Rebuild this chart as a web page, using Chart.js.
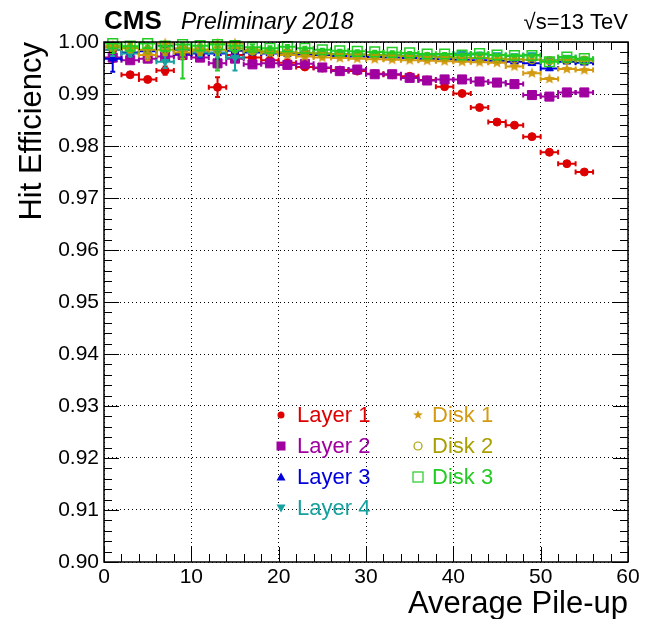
<!DOCTYPE html>
<html>
<head>
<meta charset="utf-8">
<script src="https://cdn.jsdelivr.net/npm/chart.js@4.4.1/dist/chart.umd.min.js"></script>
<style>
html, body { margin: 0; padding: 0; background: #fff; }
</style>
</head>
<body>
<canvas id="hiteff" width="651" height="619"></canvas>
<script>
// average pile-up bin centres (bins 2 wide)
var pileup = [1, 3, 5, 7, 9, 11, 13, 15, 17, 19, 21, 23, 25, 27, 29, 31, 33, 35, 37, 39, 41, 43, 45, 47, 49, 51, 53, 55];

var layer1 = [0.9985, 0.9937, 0.9928, 0.9945, 0.9985, 0.9980, 0.9913, 0.9975, 0.9970, 0.9965, 0.9960, 0.9952, 0.9950, 0.9946, 0.9944, 0.9939, 0.9937, 0.9934, 0.9927, 0.9914, 0.9901, 0.9874, 0.9846, 0.9840, 0.9818, 0.9788, 0.9766, 0.9750];
var layer2 = [0.9970, 0.9965, 0.9968, 0.9972, 0.9975, 0.9970, 0.9959, 0.9968, 0.9957, 0.9959, 0.9956, 0.9958, 0.9951, 0.9944, 0.9947, 0.9938, 0.9938, 0.9931, 0.9926, 0.9928, 0.9928, 0.9924, 0.9922, 0.9919, 0.9898, 0.9895, 0.9903, 0.9903];
var layer3 = [0.9968, 0.9980, 0.9982, 0.9993, 0.9978, 0.9978, 0.9978, 0.9983, 0.9980, 0.9978, 0.9977, 0.9976, 0.9975, 0.9973, 0.9972, 0.9971, 0.9970, 0.9969, 0.9968, 0.9967, 0.9966, 0.9965, 0.9964, 0.9962, 0.9959, 0.9949, 0.9962, 0.9960];
var layer4 = [0.9985, 0.9978, 0.9975, 0.9962, 0.9985, 0.9980, 0.9980, 0.9970, 0.9982, 0.9980, 0.9980, 0.9979, 0.9978, 0.9977, 0.9976, 0.9975, 0.9975, 0.9974, 0.9973, 0.9972, 0.9978, 0.9976, 0.9975, 0.9973, 0.9975, 0.9965, 0.9970, 0.9967];
var disk1 = [0.9993, 0.9990, 0.9975, 0.9997, 0.9980, 0.9985, 0.9997, 0.9997, 0.9985, 0.9980, 0.9975, 0.9972, 0.9970, 0.9969, 0.9968, 0.9967, 0.9966, 0.9965, 0.9964, 0.9963, 0.9962, 0.9961, 0.9960, 0.9953, 0.9940, 0.9929, 0.9948, 0.9946];
var disk2 = [0.9990, 0.9988, 0.9985, 0.9985, 0.9988, 0.9985, 0.9985, 0.9988, 0.9983, 0.9982, 0.9980, 0.9979, 0.9978, 0.9977, 0.9976, 0.9975, 0.9974, 0.9973, 0.9972, 0.9971, 0.9970, 0.9969, 0.9968, 0.9967, 0.9966, 0.9964, 0.9966, 0.9965];
var disk3 = [0.9997, 0.9992, 0.9997, 0.9992, 0.9995, 0.9993, 0.9995, 0.9993, 0.9990, 0.9988, 0.9991, 0.9988, 0.9985, 0.9983, 0.9982, 0.9981, 0.9980, 0.9979, 0.9977, 0.9977, 0.9975, 0.9978, 0.9975, 0.9974, 0.9974, 0.9962, 0.9971, 0.9968];

// vertical (statistical) errors
var layer1Err = [0.0010, 0.0004, 0.0004, 0.0008, 0.0010, 0.0008, 0.0019, 0.0006, 0.0004, 0.0003, 0.0003, 0.0003, 0.0002, 0.0002, 0.0002, 0.0002, 0.0002, 0.0002, 0.0002, 0.0002, 0.0002, 0.0002, 0.0002, 0.0002, 0.0002, 0.0002, 0.0002, 0.0002];
var layer2Err = [0.0008, 0.0004, 0.0004, 0.0006, 0.0008, 0.0006, 0.0008, 0.0005, 0.0003, 0.0003, 0.0002, 0.0002, 0.0002, 0.0002, 0.0002, 0.0002, 0.0002, 0.0002, 0.0002, 0.0002, 0.0002, 0.0002, 0.0002, 0.0002, 0.0002, 0.0002, 0.0002, 0.0002];
var layer3Err = [0.0025, 0.0006, 0.0006, 0.0008, 0.0010, 0.0008, 0.0010, 0.0006, 0.0004, 0.0003, 0.0003, 0.0002, 0.0002, 0.0002, 0.0002, 0.0002, 0.0002, 0.0002, 0.0002, 0.0002, 0.0002, 0.0002, 0.0002, 0.0002, 0.0002, 0.0002, 0.0002, 0.0002];
var layer4Err = [0.0012, 0.0006, 0.0006, 0.0012, 0.0010, 0.0008, 0.0010, 0.0025, 0.0005, 0.0004, 0.0003, 0.0003, 0.0002, 0.0002, 0.0002, 0.0002, 0.0002, 0.0002, 0.0002, 0.0002, 0.0002, 0.0002, 0.0002, 0.0002, 0.0002, 0.0002, 0.0002, 0.0002];
var disk1Err = [0.0010, 0.0008, 0.0010, 0.0010, 0.0012, 0.0010, 0.0010, 0.0008, 0.0005, 0.0004, 0.0003, 0.0003, 0.0002, 0.0002, 0.0002, 0.0002, 0.0002, 0.0002, 0.0002, 0.0002, 0.0002, 0.0002, 0.0002, 0.0002, 0.0002, 0.0002, 0.0002, 0.0002];
var disk2Err = [0.0010, 0.0008, 0.0008, 0.0010, 0.0012, 0.0010, 0.0010, 0.0008, 0.0005, 0.0004, 0.0003, 0.0003, 0.0002, 0.0002, 0.0002, 0.0002, 0.0002, 0.0002, 0.0002, 0.0002, 0.0002, 0.0002, 0.0002, 0.0002, 0.0002, 0.0002, 0.0002, 0.0002];
var disk3Err = [0.0018, 0.0008, 0.0008, 0.0010, 0.0065, 0.0010, 0.0050, 0.0012, 0.0005, 0.0004, 0.0003, 0.0003, 0.0002, 0.0002, 0.0002, 0.0002, 0.0002, 0.0002, 0.0002, 0.0002, 0.0002, 0.0002, 0.0002, 0.0002, 0.0002, 0.0002, 0.0002, 0.0002];

var binHalf = 1;
var seriesNames = ["Layer 1", "Layer 2", "Layer 3", "Layer 4", "Disk 1", "Disk 2", "Disk 3"];
var seriesColors = ["#dd0000", "#a000a0", "#0000dd", "#16a0a0", "#d49a10", "#a8a000", "#22cc22"];

var FONT = "'Liberation Sans', Arial, sans-serif";

// five pointed star marker (ROOT marker 29 style)
function makeStar(color, r) {
    var c = document.createElement('canvas');
    c.width = c.height = r * 2 + 2;
    var g = c.getContext('2d');
    g.fillStyle = color;
    g.beginPath();
    for (var i = 0; i < 10; i++) {
        var rad = i % 2 === 0 ? r : r * 0.42;
        var a = -Math.PI / 2 + i * Math.PI / 5;
        g.lineTo(r + 1 + rad * Math.cos(a), r + 1 + rad * Math.sin(a));
    }
    g.closePath();
    g.fill();
    return c;
}
var starImg = makeStar(seriesColors[4], 6);
var starSmall = makeStar(seriesColors[4], 5);

function pts(vals, errs) {
    return pileup.map(function (x, i) { return { x: x, y: vals[i], e: errs[i] }; });
}

var styles = [
    { pointStyle: 'circle', pointRadius: 4, fill: true },
    { pointStyle: 'rect', pointRadius: 6.4, fill: true },
    { pointStyle: 'triangle', pointRadius: 4.5, fill: true },
    { pointStyle: 'triangle', pointRadius: 4.5, fill: true, rotation: 180 },
    { pointStyle: starImg, pointRadius: 6, fill: true },
    { pointStyle: 'circle', pointRadius: 4, fill: false },
    { pointStyle: 'rect', pointRadius: 6.8, fill: false }
];

var allVals = [layer1, layer2, layer3, layer4, disk1, disk2, disk3];
var allErrs = [layer1Err, layer2Err, layer3Err, layer4Err, disk1Err, disk2Err, disk3Err];

var datasets = seriesNames.map(function (name, i) {
    var s = styles[i];
    return {
        label: name,
        data: pts(allVals[i], allErrs[i]),
        showLine: false,
        borderColor: seriesColors[i],
        backgroundColor: s.fill ? seriesColors[i] : 'rgba(0,0,0,0)',
        pointStyle: s.pointStyle,
        pointRadius: s.pointRadius,
        pointHoverRadius: s.pointRadius,
        pointBorderWidth: s.fill ? 1 : 1.5,
        pointRotation: s.rotation || 0,
        clip: false,
        order: 7 - i
    };
});

var errorBars = {
    id: 'errorBars',
    beforeDatasetDraw: function (chart, args) {
        var ds = chart.data.datasets[args.index];
        var xs = chart.scales.x, ys = chart.scales.y, ctx = chart.ctx, a = chart.chartArea;
        ctx.save();
        ctx.beginPath();
        ctx.rect(a.left, a.top, a.right - a.left, a.bottom - a.top);
        ctx.clip();
        ctx.strokeStyle = ds.borderColor;
        ctx.lineWidth = 2;
        ds.data.forEach(function (p) {
            var xc = xs.getPixelForValue(p.x);
            var x0 = xs.getPixelForValue(p.x - binHalf);
            var x1 = xs.getPixelForValue(p.x + binHalf);
            var yc = ys.getPixelForValue(p.y);
            var y0 = ys.getPixelForValue(p.y - p.e);
            var y1 = ys.getPixelForValue(p.y + p.e);
            ctx.beginPath();
            ctx.moveTo(x0, yc); ctx.lineTo(x1, yc);
            ctx.moveTo(x0, yc - 2.5); ctx.lineTo(x0, yc + 2.5);
            ctx.moveTo(x1, yc - 2.5); ctx.lineTo(x1, yc + 2.5);
            ctx.moveTo(xc, y0); ctx.lineTo(xc, y1);
            ctx.moveTo(xc - 2.5, y0); ctx.lineTo(xc + 2.5, y0);
            ctx.moveTo(xc - 2.5, y1); ctx.lineTo(xc + 2.5, y1);
            ctx.stroke();
        });
        ctx.restore();
    }
};

function legendMarker(ctx, i, x, y) {
    var c = seriesColors[i];
    ctx.save();
    ctx.fillStyle = c; ctx.strokeStyle = c; ctx.lineWidth = 1.2;
    ctx.beginPath();
    if (i === 0) { ctx.arc(x, y, 3.5, 0, Math.PI * 2); ctx.fill(); }
    else if (i === 1) { ctx.fillRect(x - 4.5, y - 4.5, 9, 9); }
    else if (i === 2) { ctx.moveTo(x, y - 4.5); ctx.lineTo(x + 4.5, y + 3.5); ctx.lineTo(x - 4.5, y + 3.5); ctx.closePath(); ctx.fill(); }
    else if (i === 3) { ctx.moveTo(x, y + 4.5); ctx.lineTo(x + 4.5, y - 3.5); ctx.lineTo(x - 4.5, y - 3.5); ctx.closePath(); ctx.fill(); }
    else if (i === 4) { ctx.drawImage(starSmall, x - 6, y - 6); }
    else if (i === 5) { ctx.arc(x, y, 4, 0, Math.PI * 2); ctx.stroke(); }
    else { ctx.strokeRect(x - 5, y - 5, 10, 10); }
    ctx.restore();
}

var decorations = {
    id: 'decorations',
    afterDraw: function (chart) {
        var ctx = chart.ctx, a = chart.chartArea, xs = chart.scales.x, ys = chart.scales.y;
        ctx.save();
        // frame
        ctx.strokeStyle = '#000';
        ctx.lineWidth = 1.5;
        ctx.strokeRect(a.left, a.top, a.right - a.left, a.bottom - a.top);
        // inward ticks on all four sides
        ctx.lineWidth = 1;
        ctx.beginPath();
        for (var v = 0; v <= 60; v += 2) {
            var px = Math.round(xs.getPixelForValue(v)) + 0.5;
            var len = v % 10 === 0 ? 15 : 8;
            ctx.moveTo(px, a.bottom); ctx.lineTo(px, a.bottom - len);
            ctx.moveTo(px, a.top); ctx.lineTo(px, a.top + len);
        }
        for (var k = 0; k <= 50; k++) {
            var py = Math.round(ys.getPixelForValue(0.9 + k * 0.002)) + 0.5;
            var l2 = k % 5 === 0 ? 15 : 8;
            ctx.moveTo(a.left, py); ctx.lineTo(a.left + l2, py);
            ctx.moveTo(a.right, py); ctx.lineTo(a.right - l2, py);
        }
        ctx.stroke();

        // titles
        ctx.fillStyle = '#000';
        ctx.textBaseline = 'alphabetic';
        ctx.font = 'bold 26px ' + FONT;
        ctx.textAlign = 'left';
        ctx.fillText('CMS', 104, 29);
        ctx.font = 'italic 23px ' + FONT;
        ctx.fillText('Preliminary 2018', 181, 29);
        ctx.font = '22px ' + FONT;
        ctx.textAlign = 'right';
        ctx.fillText('\u221As=13 TeV', 628, 29);

        ctx.font = '31px ' + FONT;
        ctx.fillText('Average Pile-up', 628, 613);
        ctx.save();
        ctx.translate(41, 42);
        ctx.rotate(-Math.PI / 2);
        ctx.textAlign = 'right';
        ctx.fillText('Hit Efficiency', 0, 0);
        ctx.restore();

        // legend
        ctx.font = '22px ' + FONT;
        ctx.textAlign = 'left';
        ctx.textBaseline = 'middle';
        var rows = [415, 446, 477, 508];
        for (var i = 0; i < 7; i++) {
            var col = i < 4 ? 0 : 1;
            var row = i < 4 ? i : i - 4;
            var mx = col === 0 ? 281 : 418;
            var tx = col === 0 ? 297 : 432;
            legendMarker(ctx, i, mx, rows[row]);
            ctx.fillStyle = seriesColors[i];
            ctx.fillText(seriesNames[i], tx, rows[row] + 1);
        }
        ctx.restore();
    }
};

var ctx = document.getElementById('hiteff').getContext('2d');
var hitChart = new Chart(ctx, {
    type: 'scatter',
    data: { datasets: datasets },
    plugins: [errorBars, decorations],
    options: {
        responsive: false,
        animation: false,
        layout: { padding: { top: 42, right: 23, left: 0, bottom: 0 } },
        plugins: { legend: { display: false }, tooltip: { enabled: false } },
        scales: {
            x: {
                type: 'linear', min: 0, max: 60,
                afterFit: function (s) { s.height = 57; },
                ticks: { stepSize: 10, padding: 3, color: '#000', font: { family: FONT, size: 21 } },
                grid: { color: '#000', lineWidth: 1, drawTicks: false },
                border: { display: false, dash: [1, 3] }
            },
            y: {
                type: 'linear', min: 0.9, max: 1.0,
                afterFit: function (s) { s.width = 104; },
                ticks: {
                    stepSize: 0.01, padding: 5, color: '#000', font: { family: FONT, size: 21 },
                    callback: function (v) { return Number(v).toFixed(2); }
                },
                grid: { color: '#000', lineWidth: 1, drawTicks: false },
                border: { display: false, dash: [1, 3] }
            }
        }
    }
});
</script>
</body>
</html>
